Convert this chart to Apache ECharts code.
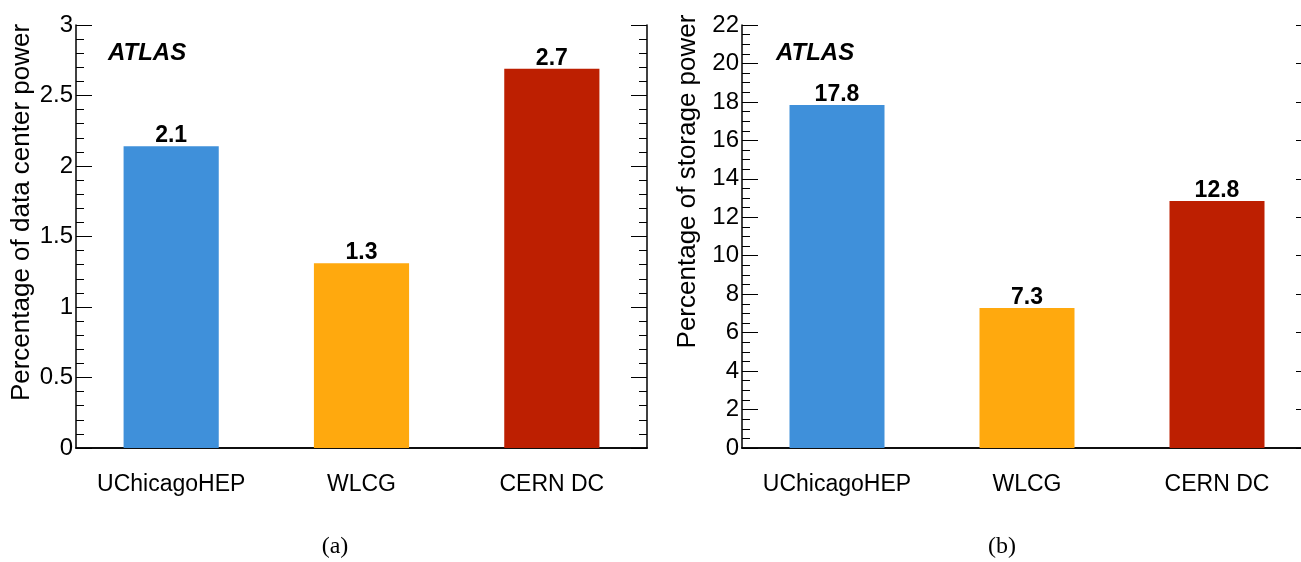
<!DOCTYPE html>
<html>
<head>
<meta charset="utf-8">
<script src="https://cdn.jsdelivr.net/npm/echarts@6/dist/echarts.min.js"></script>
<style>
html,body{margin:0;padding:0;background:#fff;overflow:hidden;}
#c{width:1320px;height:562px;}
</style>
</head>
<body>
<div id="c"></div>
<script>
const categories = ['UChicagoHEP', 'WLCG', 'CERN DC'];
const dataCenterPower = [2.14, 1.31, 2.69];
const storagePower = [17.84, 7.28, 12.84];
const leftTicks = {min: 0, max: 3, interval: 0.5};
const rightTicks = {min: 0, max: 22, interval: 2};
const barColors = ['#3f90da', '#ffa90e', '#bd1f01'];

const FONT = '"Liberation Sans", Arial, Helvetica, sans-serif';
const chart = echarts.init(document.getElementById('c'), null, {renderer: 'canvas'});

function xAxes(gridIndex) {
  return [
    {
      type: 'category', gridIndex, position: 'bottom', data: categories,
      axisLine: {lineStyle: {color: '#000', width: 1.5}},
      axisTick: {inside: true, length: 13, lineStyle: {color: '#000', width: 1}},
      axisLabel: {interval: 0, fontFamily: FONT, fontSize: 23, color: '#000', margin: 25},
      splitLine: {show: false}
    },
    {
      type: 'category', gridIndex, position: 'top', data: categories,
      axisLine: {lineStyle: {color: '#000', width: 1.5}},
      axisTick: {inside: true, length: 13, lineStyle: {color: '#000', width: 1}},
      axisLabel: {show: false},
      splitLine: {show: false}
    }
  ];
}
function yAxes(gridIndex, ticks, minorSplit, name, shift) {
  const common = {
    type: 'value', gridIndex, min: ticks.min, max: ticks.max, interval: ticks.interval,
    axisLine: {show: true, lineStyle: {color: '#000', width: 1.5}},
    axisTick: {show: true, inside: true, length: 16, lineStyle: {color: '#000', width: 1}},
    minorTick: {show: true, splitNumber: minorSplit, length: 8, lineStyle: {color: '#000', width: 1}},
    splitLine: {show: false},
    minorSplitLine: {show: false}
  };
  return [
    Object.assign({}, common, {
      position: 'left',
      name: name, nameLocation: 'middle', nameGap: 41, nameRotate: 90,
      nameTextStyle: {fontFamily: FONT, fontSize: 26, color: '#000', padding: [0, 0, 0, shift]},
      axisLabel: {fontFamily: FONT, fontSize: 24, color: '#000', margin: 3}
    }),
    Object.assign({}, common, {
      position: 'right',
      axisLabel: {show: false}
    })
  ];
}
function barSeries(xi, yi, values) {
  return {
    type: 'bar', xAxisIndex: xi, yAxisIndex: yi, data: values, barWidth: '50%',
    itemStyle: {color: p => barColors[p.dataIndex]},
    label: {
      show: true, position: 'top', distance: -1,
      formatter: p => p.value.toFixed(1),
      fontFamily: FONT, fontSize: 23, fontWeight: 'bold', color: '#000'
    }
  };
}

chart.setOption({
  animation: false,
  backgroundColor: '#fff',
  title: [
    {text: 'ATLAS', left: 108, top: 41, padding: 0,
     textStyle: {fontFamily: FONT, fontSize: 24, fontWeight: 'bold', fontStyle: 'italic', color: '#000'}},
    {text: 'ATLAS', left: 776, top: 41, padding: 0,
     textStyle: {fontFamily: FONT, fontSize: 24, fontWeight: 'bold', fontStyle: 'italic', color: '#000'}},
    {text: '(a)', left: 335, top: 535, textAlign: 'center', padding: 0,
     textStyle: {fontFamily: '"Liberation Serif", "Times New Roman", serif', fontSize: 24, fontWeight: 'normal', color: '#000'}},
    {text: '(b)', left: 1002, top: 535, textAlign: 'center', padding: 0,
     textStyle: {fontFamily: '"Liberation Serif", "Times New Roman", serif', fontSize: 24, fontWeight: 'normal', color: '#000'}}
  ],
  grid: [
    {left: 76, top: 25, width: 571, height: 423},
    {left: 742, top: 25, width: 570, height: 423}
  ],
  xAxis: xAxes(0).concat(xAxes(1)),
  yAxis: yAxes(0, leftTicks, 5, 'Percentage of data center power', 48)
    .concat(yAxes(1, rightTicks, 4, 'Percentage of storage power', 110)),
  series: [
    barSeries(0, 0, dataCenterPower),
    barSeries(2, 2, storagePower)
  ]
});
</script>
</body>
</html>
